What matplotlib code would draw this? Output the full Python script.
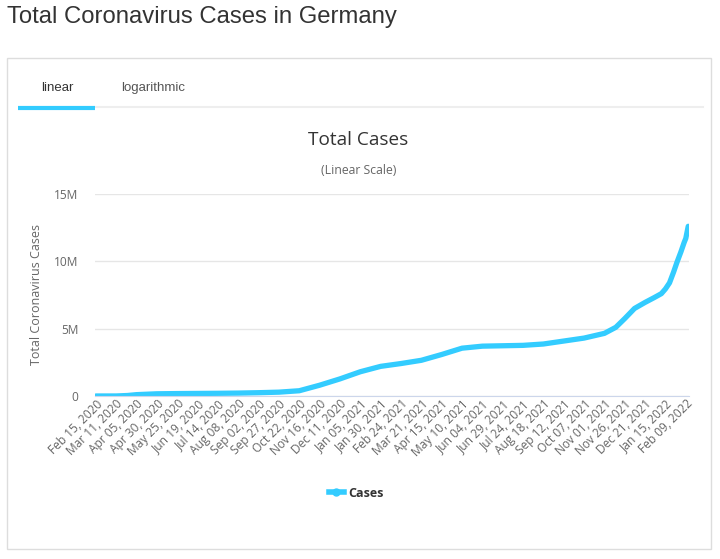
import matplotlib
matplotlib.use("Agg")
import matplotlib.pyplot as plt
from matplotlib.patches import Rectangle
from matplotlib.lines import Line2D
import datetime as dt

# total cases (millions)
dates = ["2020-02-15", "2020-03-11", "2020-03-25", "2020-04-05", "2020-04-30",
         "2020-05-25", "2020-06-19", "2020-07-14", "2020-08-08", "2020-09-02",
         "2020-09-27", "2020-10-22", "2020-11-16", "2020-12-11", "2021-01-05",
         "2021-01-30", "2021-02-24", "2021-03-21", "2021-04-15", "2021-05-10",
         "2021-06-04", "2021-06-29", "2021-07-24", "2021-08-18", "2021-09-12",
         "2021-10-07", "2021-11-01", "2021-11-15", "2021-11-26", "2021-12-08",
         "2021-12-21", "2022-01-01", "2022-01-10", "2022-01-15", "2022-01-20",
         "2022-01-25", "2022-01-29", "2022-02-03", "2022-02-07", "2022-02-09",
         "2022-02-12"]
cases_m = [0.00002, 0.002, 0.037, 0.10, 0.163,
           0.18, 0.19, 0.20, 0.216, 0.245,
           0.285, 0.39, 0.80, 1.27, 1.80,
           2.20, 2.41, 2.65, 3.08, 3.55,
           3.70, 3.73, 3.76, 3.86, 4.08,
           4.30, 4.65, 5.10, 5.75, 6.50,
           6.95, 7.30, 7.60, 7.95, 8.40,
           9.20, 9.90, 10.70, 11.40, 11.70,
           12.60]

x = [dt.datetime.strptime(d, "%Y-%m-%d") for d in dates]
y = [v * 1e6 for v in cases_m]

tick_dates = [dt.datetime(2020, 2, 15) + dt.timedelta(days=25 * i) for i in range(30)]

blue = "#33ccff"
grey = "#666666"

fig = plt.figure(figsize=(7.2, 5.59), dpi=100)

fig.text(0.010, 0.990, "Total Coronavirus Cases in Germany", fontsize=17.2,
         family="Liberation Sans", color="#333333", va="top")

# panel border
fig.patches.append(Rectangle((0.010, 0.018), 0.978, 0.878, transform=fig.transFigure,
                             fill=False, edgecolor="#dddddd", lw=1))
# tabs
fig.text(0.080, 0.843, "linear", fontsize=9.5, family="Liberation Sans",
         color="#333333", ha="center", va="center")
fig.text(0.213, 0.843, "logarithmic", fontsize=9.5, family="Liberation Sans",
         color="#555555", ha="center", va="center")
fig.add_artist(Line2D([0.132, 0.977], [0.808, 0.808], transform=fig.transFigure,
                      color="#eeeeee", lw=1.5))
fig.add_artist(Line2D([0.025, 0.132], [0.806, 0.806], transform=fig.transFigure,
                      color=blue, lw=3, solid_capstyle="butt"))

fig.text(0.498, 0.749, "Total Cases", fontsize=13.7, family="Open Sans",
         color="#333333", ha="center", va="center")
fig.text(0.498, 0.695, "(Linear Scale)", fontsize=8.8, family="Open Sans",
         color=grey, ha="center", va="center")

ax = fig.add_axes([0.132, 0.2916, 0.825, 0.3614])
ax.plot(x, y, color=blue, lw=3.8, solid_capstyle="round", solid_joinstyle="round",
        label="Cases")
ax.set_ylim(0, 15e6)
ax.set_xlim(x[0] - dt.timedelta(days=1), x[-1] + dt.timedelta(days=1))
ax.set_yticks([0, 5e6, 10e6, 15e6])
ax.set_yticklabels(["0", "5M", "10M", "15M"])
ax.set_xticks(tick_dates)
ax.set_xticklabels([d.strftime("%b %d, %Y") for d in tick_dates], rotation=45,
                   ha="right", rotation_mode="anchor")
ax.grid(axis="y", color="#e6e6e6", lw=1)
ax.set_axisbelow(True)
for s in ["top", "right", "left"]:
    ax.spines[s].set_visible(False)
ax.spines["bottom"].set_color("#ccd6eb")
ax.tick_params(axis="both", length=0, colors=grey, labelsize=8.6)
ax.tick_params(axis="y", pad=12)
ax.tick_params(axis="x", pad=1)
for lab in ax.get_xticklabels() + ax.get_yticklabels():
    lab.set_family("Open Sans")
ax.set_ylabel("Total Coronavirus Cases", fontsize=9, family="Open Sans",
              color=grey, labelpad=8)

leg = fig.legend(handles=[Line2D([], [], color=blue, lw=4, marker="o", markersize=5)],
                 labels=["Cases"], loc="center", bbox_to_anchor=(0.495, 0.118),
                 frameon=False, handlelength=1.2, handletextpad=0.4,
                 prop={"family": "Open Sans", "weight": "bold", "size": 9})
for t in leg.get_texts():
    t.set_color("#333333")

fig.savefig("out.png", dpi=100)
